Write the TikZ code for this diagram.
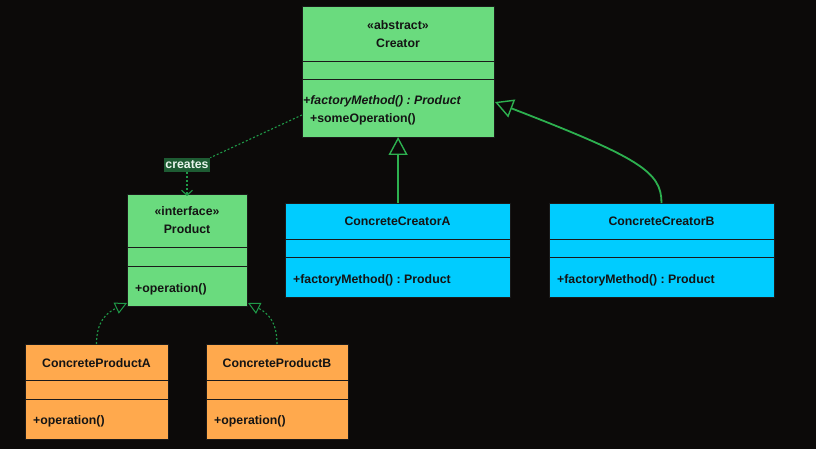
\documentclass[tikz,border=0pt]{standalone}
\usepackage{fontspec}
\setmainfont{Liberation Sans}
\usetikzlibrary{arrows.meta}
\definecolor{bg}{HTML}{0C0A09}
\definecolor{gfill}{HTML}{6ADB7E}
\definecolor{cfill}{HTML}{00CCFF}
\definecolor{ofill}{HTML}{FFA94D}
\definecolor{edge}{HTML}{1A1A1A}
\definecolor{gline}{HTML}{2DB04F}
\definecolor{dline}{HTML}{1F9A48}
\definecolor{lblfill}{HTML}{1E5C33}
\definecolor{lbltext}{HTML}{E8F5EC}
\definecolor{txt}{HTML}{141414}
\frenchspacing
\begin{document}
\begin{tikzpicture}[x=1pt,y=-1pt,
  box/.style={draw=edge, line width=0.8pt, anchor=north west, inner sep=0pt, outer sep=0pt},
  div/.style={draw=edge, line width=0.9pt},
  ttl/.style={text=txt, font=\fontsize{12.3}{14}\selectfont\bfseries, inner sep=0pt},
  mth/.style={text=txt, font=\fontsize{12.3}{14}\selectfont\bfseries, inner sep=0pt, anchor=west},
  gen/.style={draw=gline, line width=1.8pt, -{Triangle[open, length=18pt, width=19pt, line width=1.4pt]}},
  real/.style={draw=dline, line width=1.1pt, dash pattern=on 2pt off 2pt, -{Triangle[open, length=12pt, width=12pt, line width=1pt, sep=0pt]}},
  dep/.style={draw=dline, line width=1.1pt, dash pattern=on 2pt off 2pt},
  lbl/.style={fill=lblfill, text=lbltext, font=\fontsize{12.3}{14}\selectfont\bfseries, inner xsep=1.5pt, inner ysep=3pt}
]
\useasboundingbox (0,0) rectangle (816,449);
\fill[bg] (0,0) rectangle (816,449);

% Creator
\node[box, fill=gfill, minimum width=192pt, minimum height=131pt] (creator) at (302,6) {};
\draw[div] (creator.west |- 0,61) -- (creator.east |- 0,61);
\draw[div] (creator.west |- 0,79) -- (creator.east |- 0,79);
\node[ttl] (creatorst) at (398,25) {«abstract»};
\node[ttl] (creatorname) at (398,43) {Creator};
\node[mth, font=\fontsize{12.3}{14}\selectfont\bfseries\itshape] (creatorm1) at (303,101) {+factoryMethod() : Product};
\node[mth] (creatorm2) at (310,119) {+someOperation()};

% Product
\node[box, fill=gfill, minimum width=120pt, minimum height=112pt] (product) at (127,194) {};
\draw[div] (product.west |- 0,247) -- (product.east |- 0,247);
\draw[div] (product.west |- 0,266) -- (product.east |- 0,266);
\node[ttl] (productst) at (187,211) {«interface»};
\node[ttl] (productname) at (187,229) {Product};
\node[mth] (productm) at (135,289) {+operation()};

% ConcreteCreatorA
\node[box, fill=cfill, minimum width=225pt, minimum height=94pt] (cca) at (285,203) {};
\draw[div] (cca.west |- 0,239) -- (cca.east |- 0,239);
\draw[div] (cca.west |- 0,257) -- (cca.east |- 0,257);
\node[ttl] (ccaname) at (397.5,221) {ConcreteCreatorA};
\node[mth] (ccam) at (293,280) {+factoryMethod() : Product};

% ConcreteCreatorB
\node[box, fill=cfill, minimum width=225pt, minimum height=94pt] (ccb) at (549,203) {};
\draw[div] (ccb.west |- 0,239) -- (ccb.east |- 0,239);
\draw[div] (ccb.west |- 0,257) -- (ccb.east |- 0,257);
\node[ttl] (ccbname) at (661.5,221) {ConcreteCreatorB};
\node[mth] (ccbm) at (557,280) {+factoryMethod() : Product};

% ConcreteProductA
\node[box, fill=ofill, minimum width=143pt, minimum height=95pt] (cpa) at (25,344) {};
\draw[div] (cpa.west |- 0,380) -- (cpa.east |- 0,380);
\draw[div] (cpa.west |- 0,399) -- (cpa.east |- 0,399);
\node[ttl] (cpaname) at (96.5,363) {ConcreteProductA};
\node[mth] (cpam) at (33,421) {+operation()};

% ConcreteProductB
\node[box, fill=ofill, minimum width=142pt, minimum height=95pt] (cpb) at (206,344) {};
\draw[div] (cpb.west |- 0,380) -- (cpb.east |- 0,380);
\draw[div] (cpb.west |- 0,399) -- (cpb.east |- 0,399);
\node[ttl] (cpbname) at (277,363) {ConcreteProductB};
\node[mth] (cpbm) at (214,421) {+operation()};

% creates dependency
\node[lbl] (creates) at (187,165) {creates};
\coordinate (cfrom) at (302,115);
\draw[dep] (cfrom) -- (creates.north east);
\draw[dep, -{Straight Barb[length=5pt, width=11pt, line width=1.1pt]}] (creates.south) -- ([yshift=-2pt]product.north);

% generalizations
\coordinate (ccatop) at ([xshift=0.6pt]cca.north);
\draw[gen] (ccatop) -- (ccatop |- creator.south);
\coordinate (cbtip) at (495,102);
\draw[gen] (ccb.north) .. controls (661.5,172) and (640,158) .. (cbtip);

% realizations
\coordinate (pa) at (127,303);
\coordinate (pb) at (248,303);
\draw[real] (cpa.north) .. controls (96.5,322) and (106,313) .. (pa);
\draw[real] (cpb.north) .. controls (277,322) and (268,313) .. (pb);
\end{tikzpicture}
\end{document}
